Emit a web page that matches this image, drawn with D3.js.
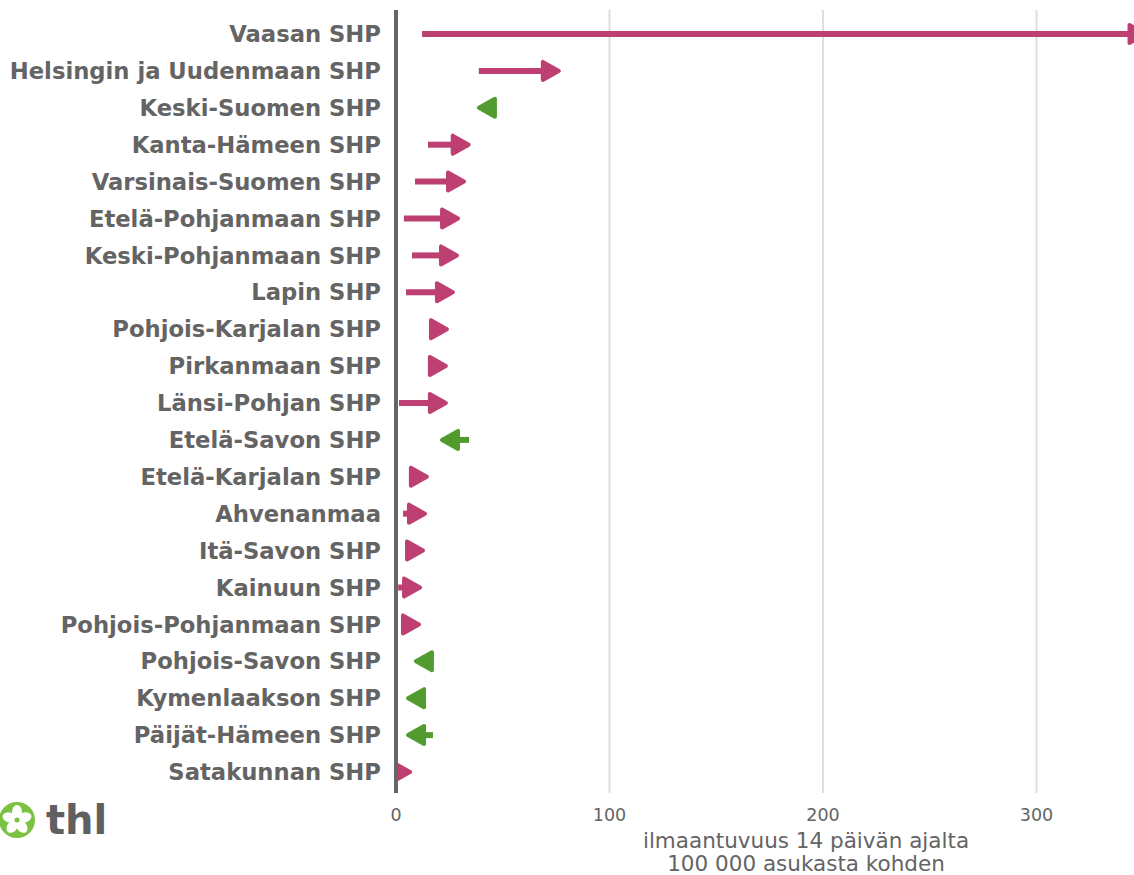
<!DOCTYPE html>
<html>
<head>
<meta charset="utf-8">
<script src="https://cdn.jsdelivr.net/npm/d3@7"></script>
<style>
  body { margin: 0; background: #fff; }
  svg { display: block; font-family: 'DejaVu Sans', sans-serif; }
</style>
</head>
<body>
<svg width="1134" height="875"></svg>
<script>
// sairaanhoitopiirit, previous vs current incidence per 100 000 / 14 days
const regions = [
  'Vaasan SHP', 'Helsingin ja Uudenmaan SHP', 'Keski-Suomen SHP', 'Kanta-Hämeen SHP',
  'Varsinais-Suomen SHP', 'Etelä-Pohjanmaan SHP', 'Keski-Pohjanmaan SHP', 'Lapin SHP',
  'Pohjois-Karjalan SHP', 'Pirkanmaan SHP', 'Länsi-Pohjan SHP', 'Etelä-Savon SHP',
  'Etelä-Karjalan SHP', 'Ahvenanmaa', 'Itä-Savon SHP', 'Kainuun SHP',
  'Pohjois-Pohjanmaan SHP', 'Pohjois-Savon SHP', 'Kymenlaakson SHP', 'Päijät-Hämeen SHP',
  'Satakunnan SHP'
];
const previous = [12.2, 38.8, 46, 15, 8.9, 3.7, 7.5, 4.7, 17, 16.5, 1.4, 34.2, 7.5, 3.3, 5, 1, 3, 17, 13, 17.3, 0.3];
const current  = [352, 77.2, 37.9, 35, 32.8, 30, 29.5, 27.6, 24.8, 24.3, 24.3, 20.6, 15.4, 14.5, 13.6, 12.2, 11.7, 8.4, 4.7, 4.7, 7.5];
const xTicks = [0, 100, 200, 300];

const up = '#be3f72';
const down = '#519b2f';
const textColor = '#646464';

const svg = d3.select('svg');
const width = +svg.attr('width');

const x = d3.scaleLinear().domain([0, 100]).range([396, 609.5]);
const y = d3.scalePoint().domain(regions).range([34, 772]);

const plotTop = 10, plotBottom = 793;

svg.append('defs').append('clipPath').attr('id', 'plot')
  .append('rect').attr('x', 396).attr('y', 0).attr('width', width - 396).attr('height', plotBottom);

// grid
svg.append('g')
  .selectAll('line')
  .data(xTicks.filter(d => d > 0))
  .join('line')
  .attr('x1', d => x(d)).attr('x2', d => x(d))
  .attr('y1', plotTop).attr('y2', plotBottom)
  .attr('stroke', '#dedede').attr('stroke-width', 2);

// tick labels
svg.append('g')
  .selectAll('text')
  .data(xTicks)
  .join('text')
  .attr('x', d => x(d)).attr('y', 821)
  .attr('text-anchor', 'middle')
  .attr('fill', textColor)
  .attr('font-size', 17.5)
  .text(d => d);

// axis title
const title = svg.append('text')
  .attr('x', 806).attr('y', 848)
  .attr('text-anchor', 'middle')
  .attr('fill', textColor)
  .attr('font-size', 21.5);
title.append('tspan').attr('x', 806).text('ilmaantuvuus 14 päivän ajalta');
title.append('tspan').attr('x', 806).attr('dy', 23).text('100 000 asukasta kohden');

// region labels
svg.append('g')
  .selectAll('text')
  .data(regions)
  .join('text')
  .attr('x', 381).attr('y', d => y(d))
  .attr('dy', '0.36em')
  .attr('text-anchor', 'end')
  .attr('fill', textColor)
  .attr('font-weight', 'bold')
  .attr('font-size', 22.7)
  .text(d => d);

// arrows
const rows = regions.map((r, i) => ({ region: r, from: previous[i], to: current[i] }));
const headLen = 16, headHalf = 9;

const arrows = svg.append('g')
  .attr('clip-path', 'url(#plot)')
  .selectAll('g')
  .data(rows)
  .join('g')
  .attr('fill', d => d.to >= d.from ? up : down)
  .attr('stroke', d => d.to >= d.from ? up : down);

arrows.append('line')
  .attr('x1', d => x(d.from))
  .attr('x2', d => {
    const dir = d.to >= d.from ? 1 : -1;
    return x(d.to) - dir * headLen;
  })
  .attr('y1', d => y(d.region)).attr('y2', d => y(d.region))
  .attr('stroke-width', 6);

arrows.append('path')
  .attr('stroke-width', 4)
  .attr('stroke-linejoin', 'round')
  .attr('d', d => {
    const dir = d.to >= d.from ? 1 : -1;
    const tip = x(d.to) - dir * 2;
    const base = tip - dir * headLen;
    const cy = y(d.region);
    return `M${tip},${cy}L${base},${cy - headHalf}L${base},${cy + headHalf}Z`;
  });

// zero axis
svg.append('line')
  .attr('x1', 396).attr('x2', 396)
  .attr('y1', plotTop).attr('y2', plotBottom)
  .attr('stroke', '#666').attr('stroke-width', 4);

// logo
const logo = svg.append('g').attr('transform', 'translate(17,820)');
logo.append('circle').attr('r', 18).attr('fill', '#7cc242');
logo.selectAll('ellipse')
  .data(d3.range(5))
  .join('ellipse')
  .attr('cx', 0).attr('cy', -8)
  .attr('rx', 5).attr('ry', 7)
  .attr('fill', '#fff')
  .attr('transform', d => `rotate(${d * 72})`);
logo.append('circle').attr('r', 2.5).attr('fill', '#7cc242');
svg.append('text')
  .attr('x', 46).attr('y', 834)
  .attr('fill', '#606060')
  .attr('font-weight', 'bold')
  .attr('font-size', 40)
  .text('thl');
</script>
</body>
</html>
